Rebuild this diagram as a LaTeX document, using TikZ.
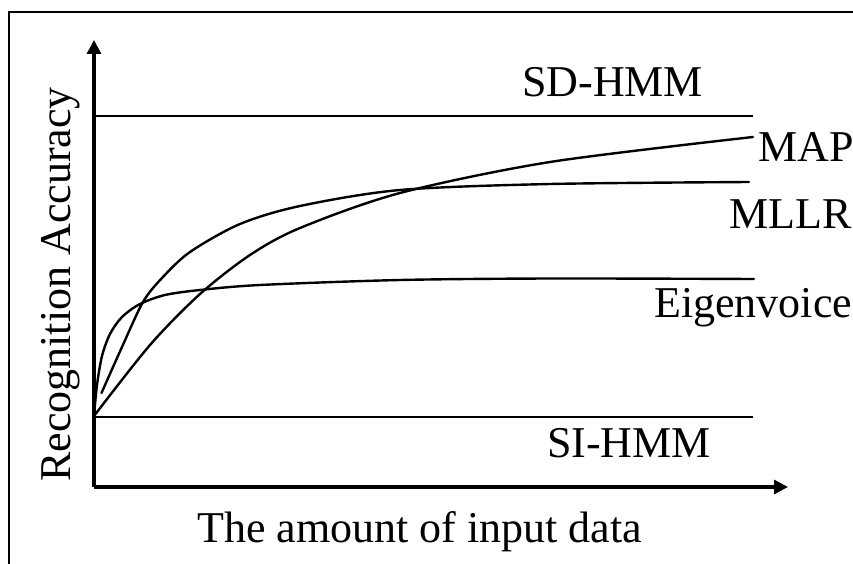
\documentclass[tikz,border=0pt]{standalone}
\usepackage{fontspec}
\setmainfont{Liberation Serif}
\usetikzlibrary{arrows.meta}
\begin{document}
\begin{tikzpicture}[x=1pt,y=-1pt,
  lbl/.style={inner sep=0pt,anchor=base west,font=\fontsize{44}{48}\selectfont},
  axis/.style={line width=3.2pt,-{Triangle[length=14pt,width=14pt]}},
  level/.style={line width=2.6pt},
  curve/.style={line width=2.4pt,line cap=round,line join=round}]
\useasboundingbox (0,0) rectangle (853,564);
% outer frame
\draw[line width=2.5pt] (9,564) -- (9,12) -- (853,12);
% axes
\coordinate (O) at (94,487);
\coordinate (ytop) at (94,40);
\coordinate (xend) at (788,487);
\draw[axis] (O) -- (ytop);
\draw[axis] (O) -- (xend);
% reference levels
\coordinate (sdL) at (94,116); \coordinate (sdR) at (753,116);
\coordinate (siL) at (94,417); \coordinate (siR) at (753,417);
\draw[level] (sdL) -- (sdR);
\draw[level] (siL) -- (siR);
% MAP
\draw[curve] plot[smooth,tension=0.5] coordinates
  {(94,416) (150,345) (200,294) (250,255) (300,228) (400,193) (550,162) (753,137)};
% MLLR
\draw[curve] plot[smooth,tension=0.5] coordinates
  {(101.5,393) (122,347) (143,302) (162,278) (190,252) (240,224) (300,206) (400,190) (550,184) (749,182)};
% Eigenvoice
\draw[curve] plot[smooth,tension=0.5] coordinates
  {(94,416) (97,385) (102,356) (110,334) (122,317) (140,304) (165,295) (200,290) (260,285) (400,280) (550,278.5) (754,279)};
% labels
\node[lbl] (sd) at (522,97) {SD-HMM};
\node[lbl] (si) at (547,457) {SI-HMM};
\node[lbl] (map) at (758,162) {MAP};
\node[lbl] (mllr) at (729,228) {MLLR};
\node[lbl] (eig) at (654,317) {Eigenvoice};
\node[lbl] (xl) at (197,542) {The amount of input data};
\node[lbl,rotate=90] (yl) at (70,482) {Recognition Accuracy};
\end{tikzpicture}
\end{document}
